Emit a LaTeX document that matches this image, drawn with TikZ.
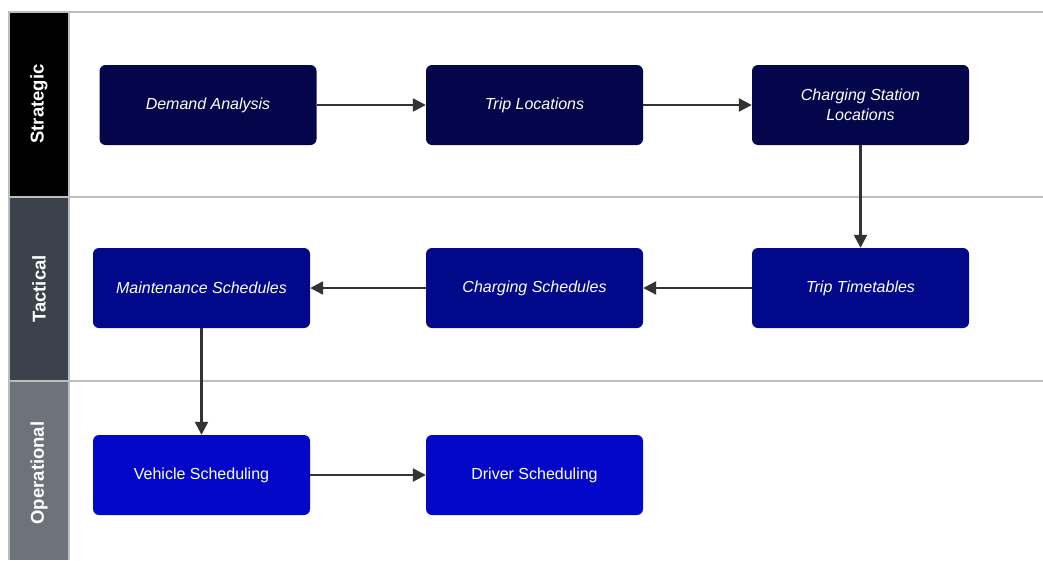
\documentclass[tikz,border=0pt]{standalone}
\usepackage{fontspec}
\setmainfont{Liberation Sans}
\usetikzlibrary{arrows.meta}
\definecolor{laneline}{HTML}{BDBDBD}
\definecolor{hdrS}{HTML}{000000}
\definecolor{hdrT}{HTML}{3B424C}
\definecolor{hdrO}{HTML}{6D727B}
\definecolor{boxS}{HTML}{03064B}
\definecolor{boxT}{HTML}{02088A}
\definecolor{boxO}{HTML}{0307C8}
\definecolor{flow}{HTML}{333333}
\tikzset{
  stepbox/.style={rounded corners=6pt, minimum width=217pt, minimum height=80pt,
    inner sep=0pt, text=white, align=center, font=\fontsize{16}{20}\selectfont},
  strat/.style={stepbox, fill=boxS, font=\fontsize{16}{20}\selectfont\itshape},
  tact/.style={stepbox, fill=boxT, font=\fontsize{16}{20}\selectfont\itshape},
  oper/.style={stepbox, fill=boxO},
  lanehdr/.style={text=white, font=\fontsize{18.5}{22}\selectfont\bfseries, rotate=90},
  flowarrow/.style={draw=flow, line width=2.4pt, -{Triangle[length=13pt, width=13pt]}}
}
\begin{document}
\begin{tikzpicture}[x=1pt, y=-1pt]
\useasboundingbox (0,0) rectangle (1043,560);
\fill[white] (0,0) rectangle (1043,560);
% lane headers
\fill[hdrS] (9,12) rectangle (69,197);
\fill[hdrT] (9,197) rectangle (69,381);
\fill[hdrO] (9,381) rectangle (69,560);
% lane borders
\draw[laneline, line width=2pt] (1043,12) -- (9,12) -- (9,560);
\draw[laneline, line width=2pt] (69,12) -- (69,560);
\draw[laneline, line width=2pt] (9,197) -- (1043,197);
\draw[laneline, line width=2pt] (9,381) -- (1043,381);
% lane titles
\node[lanehdr] (lS) at (39,104) {Strategic};
\node[lanehdr] (lT) at (39,289) {Tactical};
\node[lanehdr] (lO) at (39,473) {Operational};
% strategic steps
\node[strat] (demand) at (208,105) {Demand Analysis\vphantom{g}};
\node[strat] (trips) at (534.5,105) {Trip Locations};
\node[strat] (stations) at (860.5,105) {Charging Station\\Locations};
% tactical steps
\node[tact] (timetables) at (860.5,288) {Trip Timetables};
\node[tact] (charging) at (534.5,288) {Charging Schedules};
\node[tact] (maint) at (201.5,288) {Maintenance Schedules};
% operational steps
\node[oper] (vehicle) at (201.5,475) {Vehicle Scheduling};
\node[oper] (driver) at (534.5,475) {Driver Scheduling};
% flow
\draw[flowarrow] (demand) -- (trips);
\draw[flowarrow] (trips) -- (stations);
\draw[flowarrow] (stations) -- (timetables);
\draw[flowarrow] (timetables) -- (charging);
\draw[flowarrow] (charging) -- (maint);
\draw[flowarrow] (maint) -- (vehicle);
\draw[flowarrow] (vehicle) -- (driver);
\end{tikzpicture}
\end{document}
